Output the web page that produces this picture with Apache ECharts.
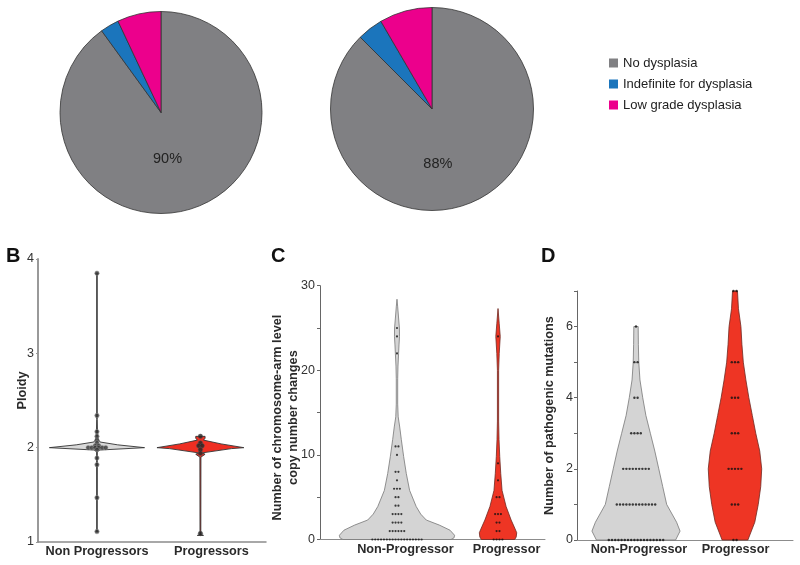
<!DOCTYPE html>
<html><head><meta charset="utf-8">
<script src="https://cdn.jsdelivr.net/npm/echarts@6/dist/echarts.min.js"></script>
<style>html,body{margin:0;padding:0;background:#fff}#c{width:800px;height:565px}</style>
</head><body><div id="c"></div>
<script>
const FONT = '"Liberation Sans", Arial, Helvetica, sans-serif';

// ---------- Panel A: pies ----------
const pieCategories = ['No dysplasia', 'Indefinite for dysplasia', 'Low grade dysplasia'];
const pieNonProgressors = [90, 3, 7];
const pieProgressors = [87.5, 4.1, 8.4];
const pieColors = ['#808083', '#1b75bc', '#ec008c'];

// ---------- Panel B: ploidy ----------
const groupsB = ['Non Progressors', 'Progressors'];
const ploidyNonProg = [3.85, 2.34, 2.17, 2.12, 2.08, 2.05, 2.02, 2.02, 2.0, 2.0, 2.0, 2.0, 2.0, 2.0, 1.98, 1.89, 1.82, 1.47, 1.11];
const ploidyProg = [2.12, 2.05, 2.02, 2.02, 1.98, 1.94, 1.09];
// violin profiles: [value, half-width in x-axis units]
const ploidyViolinNonProg = [[1.11,0.012],[1.115,0.003],[1.96,0.004],[1.975,0.03],[2.0,0.46],[2.03,0.2],[2.06,0.03],[2.09,0.012],[2.12,0.006],[2.3,0.003],[3.83,0.003],[3.85,0.012]];
const ploidyViolinProg = [[1.07,0.03],[1.075,0.004],[1.9,0.005],[1.93,0.045],[1.945,0.02],[1.99,0.3],[2.0,0.42],[2.04,0.2],[2.08,0.03],[2.1,0.045],[2.12,0.045]];
const ticksB = [1, 2, 3, 4];

// ---------- Panel C: chromosome-arm CNAs ----------
const groupsC = ['Non-Progressor', 'Progressor'];
const cnaNonProg = [0,0,0,0,0,0,0,0,0,0,0,0,0,0,0,0,0,0, 1,1,1,1,1,1, 2,2,2,2, 3,3,3,3, 4,4, 5,5, 6,6,6, 7, 8,8, 10, 11,11, 22, 24, 25];
const cnaProg = [0,0,0,0, 1,1, 2,2, 3,3,3, 5,5, 7, 9, 24];
const cnaViolinNonProg = [[0,0.535],[0.2,0.565],[0.5,0.57],[1.1,0.525],[1.7,0.42],[2.3,0.29],[3,0.235],[3.9,0.19],[5.8,0.125],[7.8,0.092],[9.8,0.066],[11.8,0.043],[13.3,0.027],[14.5,0.012],[16,0.007],[19,0.007],[20.5,0.01],[22,0.016],[23,0.02],[24,0.025],[25,0.024],[26.3,0.015],[27.5,0.007],[28.4,0]];
const cnaViolinProg = [[0,0.165],[0.3,0.18],[0.8,0.185],[1.5,0.16],[2.3,0.13],[3.9,0.08],[5.8,0.04],[7.8,0.027],[9.8,0.017],[11.8,0.01],[14,0.006],[20,0.006],[22,0.012],[24,0.022],[25.5,0.012],[27.3,0]];

// ---------- Panel D: pathogenic mutations ----------
const groupsD = ['Non-Progressor', 'Progressor'];
const mutNonProg = [0,0,0,0,0,0,0,0,0,0,0,0,0,0,0,0,0,0, 1,1,1,1,1,1,1,1,1,1,1,1,1, 2,2,2,2,2,2,2,2,2, 3,3,3,3, 4,4, 5,5, 6];
const mutProg = [0,0, 1,1,1, 2,2,2,2,2, 3,3,3, 4,4,4, 5,5,5, 7,7];
const mutViolinNonProg = [[0,0.40],[0.25,0.445],[0.5,0.41],[1,0.31],[1.5,0.27],[2,0.23],[2.5,0.19],[3,0.145],[3.5,0.1],[4,0.068],[4.5,0.04],[5,0.028],[5.5,0.024],[6,0.022]];
const mutViolinProg = [[0,0.13],[0.5,0.2],[1,0.235],[1.5,0.26],[2,0.27],[2.5,0.25],[3,0.21],[3.5,0.175],[4,0.14],[4.5,0.11],[5,0.084],[5.5,0.07],[6,0.06],[6.5,0.035],[7,0.025]];

// ---------- helpers ----------
function dotRows(values, center, spacing) {
  const counts = {}, seen = {};
  values.forEach(v => counts[v] = (counts[v] || 0) + 1);
  return values.map(v => {
    const n = counts[v];
    const i = seen[v] = (seen[v] === undefined ? 0 : seen[v] + 1);
    return { value: [center, v], symbolOffset: [(i - (n - 1) / 2) * spacing, 0] };
  });
}
function violin(profile, center, idx, fill, stroke, lw) {
  return {
    type: 'custom', xAxisIndex: idx, yAxisIndex: idx, silent: true, z: 2,
    data: [[center, profile[0][0]]],
    renderItem: (params, api) => {
      const c = api.value(0);
      const right = profile.map(p => api.coord([c + p[1], p[0]]));
      const left = profile.slice().reverse().map(p => api.coord([c - p[1], p[0]]));
      return { type: 'polygon', shape: { points: right.concat(left) }, style: { fill: fill, stroke: stroke, lineWidth: lw } };
    }
  };
}
function dots(values, center, idx, spacing, size, style) {
  return { type: 'scatter', xAxisIndex: idx, yAxisIndex: idx, silent: true, z: 5,
    data: dotRows(values, center, spacing), symbol: 'circle', symbolSize: size, itemStyle: style };
}
function pie(values, center, radius, dx, dy) {
  return {
    type: 'pie', center: center, radius: radius, startAngle: 90, clockwise: true,
    silent: true, emphasis: { disabled: true },
    itemStyle: { borderColor: '#333', borderWidth: 0.8 },
    label: { position: 'inside', fontSize: 14.5, color: '#222', fontFamily: FONT,
      formatter: p => Math.round(p.percent) + '%' },
    labelLine: { show: false },
    labelLayout: { dx: dx, dy: dy },
    data: pieCategories.map((n, i) => ({ name: n, value: values[i], itemStyle: { color: pieColors[i] }, label: { show: i === 0 } }))
  };
}
const catLabelStyle = { fontSize: 12.7, fontWeight: 'bold', color: '#2a2a2a', fontFamily: FONT };
function xAxis(idx, min, max, groups, pads) {
  return {
    type: 'value', gridIndex: idx, min: min, max: max,
    axisLine: { show: true, onZero: false, lineStyle: { color: '#8c8c8c', width: idx === 0 ? 1.5 : 1 } },
    axisTick: { show: false }, splitLine: { show: false },
    axisLabel: {
      customValues: [1, 2], margin: 3,
      formatter: v => (v === 1 ? '{a|' : '{b|') + groups[v - 1] + '}',
      rich: { a: Object.assign({ padding: [0, 0, 0, pads[0]] }, catLabelStyle), b: Object.assign({ padding: [0, 0, 0, pads[1]] }, catLabelStyle) }
    }
  };
}
function yAxis(idx, min, max, interval, labelEvery, name, gap, pad, lineColor, lineWidth) {
  return {
    type: 'value', gridIndex: idx, min: min, max: max, interval: interval,
    axisLine: { show: true, lineStyle: { color: lineColor, width: lineWidth } },
    axisTick: { show: true, length: idx === 0 ? 2 : 3, lineStyle: { color: lineColor } },
    splitLine: { show: false },
    axisLabel: { fontSize: 12.5, color: '#333', margin: idx === 1 ? 5 : 4, fontFamily: FONT,
      formatter: v => (v % labelEvery === 0 ? String(v) : '') },
    name: name, nameLocation: 'middle', nameGap: gap, nameMoveOverlap: false,
    nameTextStyle: { fontSize: 12.7, fontWeight: 'bold', color: '#2a2a2a', fontFamily: FONT, padding: pad, lineHeight: 16 }
  };
}

const chart = echarts.init(document.getElementById('c'), null, { renderer: 'canvas' });
chart.setOption({
  animation: false,
  backgroundColor: '#fff',
  textStyle: { fontFamily: FONT },
  title: [
    { text: 'B', left: 6, top: 246, padding: 0, textStyle: { fontSize: 20, fontWeight: 'bold', color: '#111', fontFamily: FONT } },
    { text: 'C', left: 271, top: 246, padding: 0, textStyle: { fontSize: 20, fontWeight: 'bold', color: '#111', fontFamily: FONT } },
    { text: 'D', left: 541, top: 246, padding: 0, textStyle: { fontSize: 20, fontWeight: 'bold', color: '#111', fontFamily: FONT } }
  ],
  legend: {
    orient: 'vertical', left: 609, top: 56, padding: 0, itemWidth: 9, itemHeight: 9, itemGap: 7,
    icon: 'rect', selectedMode: false, data: pieCategories,
    textStyle: { fontSize: 13, color: '#222', lineHeight: 14, fontFamily: FONT },
    itemStyle: { borderWidth: 0 }
  },
  grid: [
    { left: 38, top: 259, width: 228, height: 283 },
    { left: 320, top: 285.7, width: 225, height: 253.8 },
    { left: 577, top: 291, width: 216, height: 249 }
  ],
  xAxis: [
    xAxis(0, 0.43, 2.634, groupsB, [0, 22]),
    xAxis(1, 0.238, 2.465, groupsC, [17, 17]),
    xAxis(2, 0.404, 2.586, groupsD, [6, 1])
  ],
  yAxis: [
    yAxis(0, 1, 4, 1, 1, 'Ploidy', 8, [0, 0, 0, 20], '#999', 2),
    yAxis(1, 0, 30, 5, 10, 'Number of chromosome-arm level\ncopy number changes', 19, [0, 10, 0, 0], '#666', 1),
    yAxis(2, 0, 7, 1, 2, 'Number of pathogenic mutations', 20, [0, 0, 0, 0], '#666', 1)
  ],
  series: [
    pie(pieNonProgressors, [161, 112.5], 101, -10, -4),
    pie(pieProgressors, [432, 109], 101.5, -14.7, 5.8),

    violin(ploidyViolinNonProg, 1, 0, '#d9d9d9', '#333', 0.9),
    violin(ploidyViolinProg, 2, 0, '#ee2e22', '#333', 0.9),
    dots(ploidyNonProg, 1, 0, 3.5, 4.5, { color: '#333', borderColor: '#999', borderWidth: 0.6 }),
    dots(ploidyProg, 2, 0, 3.5, 4.5, { color: '#222', borderColor: '#555', borderWidth: 0.6 }),

    violin(cnaViolinNonProg, 1, 1, '#d4d4d4', '#777', 0.8),
    violin(cnaViolinProg, 2, 1, '#ee3524', '#6e2a22', 0.8),
    dots(cnaNonProg, 1, 1, 2.9, 2.2, { color: '#111' }),
    dots(cnaProg, 2, 1, 2.9, 2.2, { color: '#111' }),

    violin(mutViolinNonProg, 1, 2, '#d4d4d4', '#777', 0.8),
    violin(mutViolinProg, 2, 2, '#ee3524', '#6e2a22', 0.8),
    dots(mutNonProg, 1, 2, 3.2, 2.4, { color: '#111' }),
    dots(mutProg, 2, 2, 3.2, 2.4, { color: '#111' })
  ]
});
</script>
</body></html>
